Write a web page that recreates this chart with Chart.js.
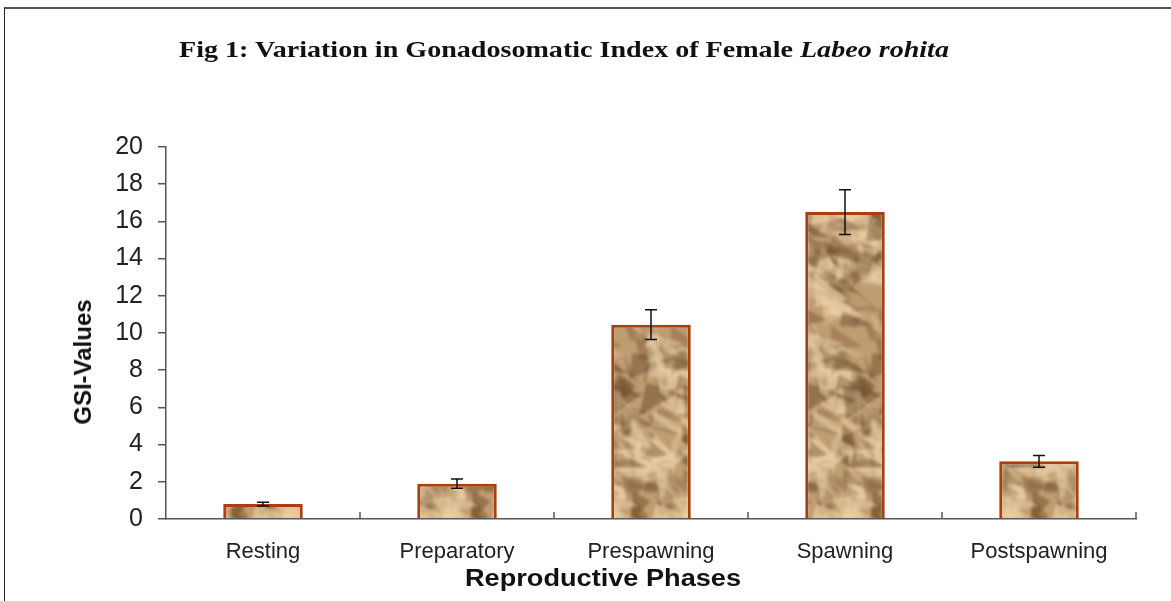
<!DOCTYPE html>
<html>
<head>
<meta charset="utf-8">
<script src="https://cdn.jsdelivr.net/npm/chart.js@4"></script>
<style>
  html, body { margin: 0; padding: 0; background: #fff; overflow: hidden; }
  #wrap { position: relative; width: 1171px; height: 601px; }
  #frame { position: absolute; left: 4px; top: 7px; width: 1200px; height: 620px; border-left: 1px solid #222; border-top: 2px solid #555; }
  #chart { position: absolute; left: 0; top: 0; }
  .title { position: absolute; left: 564px; top: 36px; transform: translateX(-50%) scaleX(1.17); white-space: nowrap;
           font: bold 24px "Liberation Serif", "Times New Roman", serif; color: #111; }
  .ytitle { position: absolute; left: 83px; top: 362px; transform: translate(-50%, -50%) rotate(-90deg); white-space: nowrap;
            font: bold 24px "Liberation Sans", Arial, sans-serif; color: #111; }
  .xtitle { position: absolute; left: 603px; top: 578px; transform: translate(-50%, -50%) scaleX(1.18); white-space: nowrap;
            font: bold 23px "Liberation Sans", Arial, sans-serif; color: #111; }
</style>
</head>
<body>
<div id="wrap">
  <div id="frame"></div>
  <canvas id="chart" width="1171" height="601"></canvas>
  <div class="title">Fig 1: Variation in Gonadosomatic Index of Female <i>Labeo rohita</i></div>
  <div class="ytitle">GSI-Values</div>
  <div class="xtitle">Reproductive Phases</div>
</div>
<script>
// ---- data ----
const phases = ['Resting', 'Preparatory', 'Prespawning', 'Spawning', 'Postspawning'];
const gsiMean = [0.8, 1.9, 10.45, 16.5, 3.1];
const gsiError = [0.1, 0.25, 0.8, 1.2, 0.32];
const yTicks = [0, 2, 4, 6, 8, 10, 12, 14, 16, 18, 20];

// crumpled-paper look for the bar fill (texture only, not data)
function paperPattern() {
  const w = 80, h = 300;
  const raw = document.createElement('canvas');
  raw.width = w; raw.height = h;
  const g = raw.getContext('2d');
  g.fillStyle = '#c09c72';
  g.fillRect(0, 0, w, h);
  let s = 11;
  const rnd = () => { s = (s * 16807) % 2147483647; return s / 2147483647; };
  for (let i = 0; i < 150; i++) {
    const x = rnd() * w, y = rnd() * h;
    const dark = rnd() < 0.45;
    const pts = [[x, y], [x + 12 + rnd() * 28, y + 6 + rnd() * 26], [x - 8 + rnd() * 14, y + 12 + rnd() * 24]];
    g.fillStyle = dark ? `rgba(100,68,35,${0.2 + rnd() * 0.3})` : `rgba(238,212,172,${0.25 + rnd() * 0.4})`;
    // draw wrapped copies so the tile has no seams
    for (const dx of [-w, 0, w]) for (const dy of [-h, 0, h]) {
      g.beginPath();
      g.moveTo(pts[0][0] + dx, pts[0][1] + dy);
      g.lineTo(pts[1][0] + dx, pts[1][1] + dy);
      g.lineTo(pts[2][0] + dx, pts[2][1] + dy);
      g.closePath();
      g.fill();
    }
  }
  // blur a 3x3 tiling and keep the centre tile
  const big = document.createElement('canvas');
  big.width = w * 3; big.height = h * 3;
  const gb = big.getContext('2d');
  gb.filter = 'blur(1.4px)';
  const tiled = document.createElement('canvas');
  tiled.width = w * 3; tiled.height = h * 3;
  const gt = tiled.getContext('2d');
  for (let i = 0; i < 3; i++) for (let j = 0; j < 3; j++) gt.drawImage(raw, i * w, j * h);
  gb.drawImage(tiled, 0, 0);
  const c = document.createElement('canvas');
  c.width = w; c.height = h;
  c.getContext('2d').drawImage(big, w, h, w, h, 0, 0, w, h);
  return c.getContext('2d').createPattern(c, 'repeat');
}

const errorBars = {
  id: 'errorBars',
  afterDatasetsDraw(chart) {
    const { ctx, scales: { x, y } } = chart;
    ctx.save();
    ctx.strokeStyle = '#111';
    ctx.lineWidth = 1.5;
    gsiMean.forEach((v, i) => {
      const px = x.getPixelForValue(i);
      const hi = y.getPixelForValue(v + gsiError[i]);
      const lo = y.getPixelForValue(v - gsiError[i]);
      ctx.beginPath();
      ctx.moveTo(px, hi); ctx.lineTo(px, lo);
      ctx.moveTo(px - 6, hi); ctx.lineTo(px + 6, hi);
      ctx.moveTo(px - 6, lo); ctx.lineTo(px + 6, lo);
      ctx.stroke();
    });
    ctx.restore();
  }
};

// small tick marks between categories, pointing up like the original
const innerTicks = {
  id: 'innerTicks',
  afterDraw(chart) {
    const { ctx, chartArea: a, scales: { x } } = chart;
    ctx.save();
    ctx.strokeStyle = '#555';
    ctx.lineWidth = 1.5;
    for (let i = 1; i <= phases.length; i++) {
      const px = x.getPixelForValue(i - 0.5);
      ctx.beginPath();
      ctx.moveTo(px, a.bottom); ctx.lineTo(px, a.bottom - 7);
      ctx.stroke();
    }
    ctx.restore();
  }
};

new Chart(document.getElementById('chart'), {
  type: 'bar',
  data: {
    labels: phases,
    datasets: [{
      data: gsiMean,
      backgroundColor: paperPattern(),
      borderColor: '#a8400e',
      borderWidth: 3,
      barPercentage: 0.41,
      categoryPercentage: 1,
    }],
  },
  options: {
    responsive: false,
    animation: false,
    layout: { padding: { top: 147, right: 35, left: 0, bottom: 0 } },
    plugins: { legend: { display: false }, tooltip: { enabled: false } },
    scales: {
      x: {
        afterFit: (s) => { s.height = 82; },
        border: { color: '#555', width: 1.5 },
        grid: { display: false },
        ticks: { color: '#222', padding: 12, font: { family: 'Liberation Sans, Arial', size: 22 } },
      },
      y: {
        min: 0, max: 20,
        afterFit: (s) => { s.width = 166; },
        afterBuildTicks: (s) => { s.ticks = yTicks.map((v) => ({ value: v })); },
        border: { color: '#555', width: 1.5 },
        grid: { drawOnChartArea: false, tickLength: 8, color: '#555', lineWidth: 1.5 },
        ticks: { color: '#222', padding: 15, font: { family: 'Liberation Sans, Arial', size: 25 } },
      },
    },
  },
  plugins: [errorBars, innerTicks],
});
</script>
</body>
</html>
